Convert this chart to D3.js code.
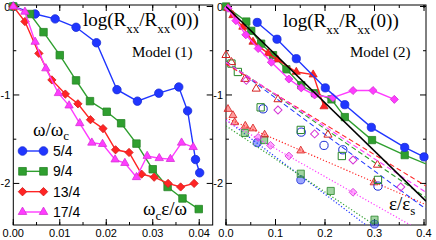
<!DOCTYPE html>
<html>
<head>
<meta charset="utf-8">
<script src="https://cdn.jsdelivr.net/npm/d3@7/dist/d3.min.js"></script>
<style>
body { margin: 0; background: #fff; }
text { fill: #000; }
</style>
</head>
<body>
<script>
const w = 436;
const h = 240;

// ---- Model (1) data ----
const legendLabels = ["5/4", "9/4", "13/4", "17/4"];
const colors = ["#2036ff", "#2f9f2f", "#ff2424", "#ff3cff"];
// circle, square, diamond (rotated square), triangle
const shapes = [d3.symbolCircle, d3.symbolSquare, d3.symbolSquare, d3.symbolTriangle];
const shapeSize = [56, 56, 34, 30];
const shapeRot = [0, 0, 45, 0];
// in Model (2) red uses triangles and magenta diamonds
const shapeOfColor1 = [0, 1, 2, 3];
const shapeOfColor2 = [0, 1, 3, 2];

const m1BlueX = [0, 0.0047, 0.009, 0.0135, 0.0179, 0.0223, 0.0267, 0.0313, 0.0356, 0.0375, 0.0392, 0.0401];
const m1BlueY = [0, -0.085, -0.14, -0.235, -0.41, -0.94, -1.07, -0.98, -0.91, -1.18, -1.73, -1.88];
const m1GreenX = [0, 0.0036, 0.0065, 0.010, 0.0135, 0.0165, 0.0201, 0.0232, 0.0265, 0.030, 0.0332, 0.0364, 0.0399];
const m1GreenY = [0, -0.085, -0.29, -0.55, -0.835, -1.07, -1.19, -1.32, -1.55, -1.84, -2.04, -2.17, -2.29];
const m1RedX = [0, 0.0025, 0.0055, 0.0083, 0.0112, 0.0139, 0.0166, 0.0193, 0.022, 0.0249, 0.0276, 0.0303, 0.0333, 0.036, 0.0389];
const m1RedY = [0, -0.17, -0.53, -0.83, -0.99, -1.10, -1.28, -1.38, -1.62, -1.65, -1.895, -1.93, -2.0, -2.04, -2.0];
const m1MagX = [0, 0.0025, 0.0047, 0.007, 0.0097, 0.012, 0.0143, 0.0169, 0.0192, 0.0219, 0.024, 0.0265, 0.0288, 0.0314, 0.0338, 0.0362, 0.0387];
const m1MagY = [0, -0.06, -0.40, -0.70, -0.98, -1.12, -1.32, -1.54, -1.555, -1.73, -1.77, -1.93, -1.69, -1.715, -1.725, -1.54, -1.59];

// ---- Model (2) data ----
// solid lines, filled markers
const m2BlueX = [0.063, 0.103, 0.142, 0.2006, 0.24, 0.2936, 0.361, 0.4];
const m2BlueY = [-0.18, -0.37, -0.59, -0.92, -1.11, -1.366, -1.593, -1.70];
const m2GreenX = [0, 0.041, 0.051, 0.071, 0.095, 0.122, 0.152, 0.18, 0.213, 0.24, 0.295, 0.361];
const m2GreenY = [0, -0.17, -0.275, -0.42, -0.55, -0.71, -0.89, -0.98, -1.05, -1.25, -1.51, -1.68];
const m2GreenTail = [0.404, -1.78];
const m2RedX = [0.004, 0.014, 0.034, 0.0545, 0.085, 0.104, 0.142, 0.176, 0.198];
const m2RedY = [-0.02, -0.1, -0.23, -0.40, -0.53, -0.6, -0.74, -0.77, -1.13];
const m2MagX = [0.004, 0.02, 0.04, 0.065, 0.0916, 0.127, 0.152, 0.179, 0.216, 0.2566, 0.297, 0.34];
const m2MagY = [-0.02, -0.16, -0.32, -0.475, -0.63, -0.82, -0.92, -1.0, -1.03, -0.95, -0.95, -1.05];
const blackLineX = [0, 0.404];
const blackLineY = [0, -2.2];

// open markers, dashed fit lines
const dashBlueX = [0.075, 0.152, 0.198, 0.236, 0.307];
const dashBlueY = [-1.157, -1.42, -1.57, -1.62, -2.03];
const dashGreenX = [0.011, 0.024, 0.07, 0.151, 0.234, 0.307];
const dashGreenY = [-0.645, -0.74, -1.14, -1.395, -1.69, -1.96];
const dashRedX = [0, 0.011, 0.038, 0.061, 0.105, 0.206, 0.306];
const dashRedY = [-0.55, -0.63, -0.82, -0.93, -1.05, -1.45, -1.79];
const dashMagX = [0.041, 0.105, 0.179, 0.2566, 0.353];
const dashMagY = [-0.835, -1.17, -1.44, -1.735, -2.04];
const dashFitStart = [-0.62, -0.62, -0.65, -0.63];   // blue, green, red, magenta at x=0
const dashFitEnd = [-2.29, -2.16, -2.03, -2.1];      // at x=0.404

// half filled markers, dotted fit lines
const dotBlueX = [0.063, 0.151, 0.30];
const dotBlueY = [-1.54, -1.96, -2.46];
const dotGreenX = [0.038, 0.077, 0.151, 0.2115, 0.30];
const dotGreenY = [-1.43, -1.51, -1.89, -2.085, -2.41];
const dotRedX = [0.004, 0.014, 0.0175, 0.039, 0.0545, 0.078, 0.151, 0.299];
const dotRedY = [-1.16, -1.23, -1.31, -1.35, -1.38, -1.45, -1.63, -1.99];
const dotMagX = [0.065, 0.09, 0.127, 0.2566];
const dotMagY = [-1.48, -1.57, -1.69, -2.1];
const dotFitStart = [-1.28, -1.35, -1.26, -1.29];
const dotFitEnd = [-2.98, -2.86, -2.24, -2.57];      // at x=0.404 (clipped)

const zip = (xs, ys) => xs.map((x, i) => [x, ys[i]]);

const svg = d3.select("body")
  .append("svg")
  .attr("width", w)
  .attr("height", h)
  .style("font-family", "'Liberation Sans', Arial, sans-serif");

const yScale = d3.scaleLinear().domain([-2.47, 0.017]).range([225, 5]);
const x1 = d3.scaleLinear().domain([0, 0.0429]).range([13.3, 212.7]);
const x2 = d3.scaleLinear().domain([0, 0.404]).range([226, 426]);

function frame(xs, id, xMajor, xMinor, fmt) {
  const [x0, xe] = xs.range();
  const [yb, yt] = yScale.range();
  svg.append("clipPath").attr("id", id)
    .append("rect").attr("x", x0).attr("y", yt).attr("width", xe - x0).attr("height", yb - yt);

  const g = svg.append("g");
  const xmaj = d3.range(0, xs.domain()[1] + 1e-9, xMajor);
  const xmin = d3.range(0, xs.domain()[1] + 1e-9, xMinor);
  const ymaj = [0, -1, -2];
  const ymin = [-0.5, -1.5];
  // ticks point inwards on all four sides
  [[xmaj, 6], [xmin, 3]].forEach(([vals, len]) => {
    vals.forEach(v => {
      g.append("line").attr("x1", xs(v)).attr("x2", xs(v)).attr("y1", yb).attr("y2", yb - len).attr("stroke", "#000");
      g.append("line").attr("x1", xs(v)).attr("x2", xs(v)).attr("y1", yt).attr("y2", yt + len).attr("stroke", "#000");
    });
  });
  [[ymaj, 6], [ymin, 3]].forEach(([vals, len]) => {
    vals.forEach(v => {
      g.append("line").attr("x1", x0).attr("x2", x0 + len).attr("y1", yScale(v)).attr("y2", yScale(v)).attr("stroke", "#000");
      g.append("line").attr("x1", xe).attr("x2", xe - len).attr("y1", yScale(v)).attr("y2", yScale(v)).attr("stroke", "#000");
    });
  });
  g.selectAll(".xl").data(xmaj).enter().append("text")
    .attr("x", d => xs(d)).attr("y", 237)
    .attr("text-anchor", "middle").attr("font-size", 11)
    .text(d => d3.format(fmt)(d));
  g.selectAll(".yl").data(ymaj).enter().append("text")
    .attr("x", x0 - 3).attr("y", d => yScale(d) + 4)
    .attr("text-anchor", "end").attr("font-size", 11)
    .text(d => d === 0 ? "0" : String(d));
  g.append("rect").attr("x", x0).attr("y", yt).attr("width", xe - x0).attr("height", yb - yt)
    .attr("fill", "none").attr("stroke", "#000").attr("stroke-width", 1);
}

function marker(s, scale) {
  return d3.symbol().type(shapes[s]).size(shapeSize[s] * (scale || 1));
}

function series(xs, pts, i, opts) {
  const s = opts.shapeMap[i];
  const g = svg.append("g").attr("clip-path", "url(#" + opts.clip + ")");
  const line = d3.line().x(d => xs(d[0])).y(d => yScale(d[1]));
  g.append("path").attr("d", line(opts.linePts || pts))
    .attr("fill", "none").attr("stroke", colors[i])
    .attr("stroke-width", opts.lw || 1.4)
    .attr("stroke-dasharray", opts.dash || null);
  const sym = marker(s, opts.scale);
  svg.append("g").selectAll("path").data(pts).enter().append("path")
    .attr("d", sym)
    .attr("transform", d => "translate(" + xs(d[0]) + "," + yScale(d[1]) + ") rotate(" + shapeRot[s] + ")")
    .attr("fill", opts.fill === "none" ? "none" : colors[i])
    .attr("fill-opacity", opts.fillOpacity || 1)
    .attr("stroke", d3.color(colors[i]).darker(0.5))
    .attr("stroke-width", opts.sw || 0.8);
}

// ---- left panel ----
frame(x1, "clip1", 0.01, 0.005, ".2f");
[[m1BlueX, m1BlueY], [m1GreenX, m1GreenY], [m1RedX, m1RedY], [m1MagX, m1MagY]].forEach(([xs, ys], i) => {
  series(x1, zip(xs, ys), i, { clip: "clip1", shapeMap: shapeOfColor1 });
});

// ---- right panel ----
frame(x2, "clip2", 0.1, 0.05, ".1f");
[[dotBlueX, dotBlueY], [dotGreenX, dotGreenY], [dotRedX, dotRedY], [dotMagX, dotMagY]].forEach(([xs, ys], i) => {
  series(x2, zip(xs, ys), i, { clip: "clip2", shapeMap: shapeOfColor2,
    linePts: [[0, dotFitStart[i]], [0.404, dotFitEnd[i]]],
    dash: "1.2,2", lw: 1.2, fillOpacity: 0.45, scale: 0.9 });
});
[[dashBlueX, dashBlueY], [dashGreenX, dashGreenY], [dashRedX, dashRedY], [dashMagX, dashMagY]].forEach(([xs, ys], i) => {
  series(x2, zip(xs, ys), i, { clip: "clip2", shapeMap: shapeOfColor2,
    linePts: [[0, dashFitStart[i]], [0.404, dashFitEnd[i]]],
    dash: "5,3", lw: 1.1, fill: "none", sw: 1, scale: 0.95 });
});
[[m2GreenX, m2GreenY], [m2RedX, m2RedY], [m2MagX, m2MagY], [m2BlueX, m2BlueY]].forEach(([xs, ys], k) => {
  const i = [1, 2, 3, 0][k];
  const pts = zip(xs, ys);
  series(x2, pts, i, { clip: "clip2", shapeMap: shapeOfColor2, scale: 0.95,
    linePts: i === 1 ? pts.concat([m2GreenTail]) : pts });
});
svg.append("path")
  .attr("clip-path", "url(#clip2)")
  .attr("d", d3.line().x(d => x2(d[0])).y(d => yScale(d[1]))(zip(blackLineX, blackLineY)))
  .attr("stroke", "#000").attr("stroke-width", 1.6).attr("fill", "none");

// ---- titles ----
function logTitle(x, y) {
  const t = svg.append("text").attr("x", x).attr("y", y)
    .attr("font-family", "'Liberation Serif', 'Times New Roman', serif").attr("font-size", 19);
  t.append("tspan").text("log(R");
  t.append("tspan").attr("font-size", 13).attr("dy", 7).text("xx");
  t.append("tspan").attr("dy", -7).text("/R");
  t.append("tspan").attr("font-size", 13).attr("dy", 7).text("xx");
  t.append("tspan").attr("dy", -7).text("(0))");
}
logTitle(83, 26);
logTitle(283, 27);

svg.append("text").attr("x", 132).attr("y", 57)
  .attr("font-family", "'Liberation Serif', serif").attr("font-size", 15).text("Model (1)");
svg.append("text").attr("x", 350).attr("y", 57)
  .attr("font-family", "'Liberation Serif', serif").attr("font-size", 15).text("Model (2)");

// x-axis captions
const cap1 = svg.append("text").attr("x", 143).attr("y", 215)
  .attr("font-family", "'Liberation Serif', serif").attr("font-size", 19);
cap1.append("tspan").text("ω");
cap1.append("tspan").attr("font-size", 13).attr("dy", 5).text("c");
cap1.append("tspan").attr("dy", -5).text("ε/ω");

const cap2 = svg.append("text").attr("x", 389).attr("y", 210)
  .attr("font-family", "'Liberation Serif', serif").attr("font-size", 19);
cap2.append("tspan").text("ε/ε");
cap2.append("tspan").attr("font-size", 13).attr("dy", 5).text("s");

// ---- legend ----
const lt = svg.append("text").attr("x", 33).attr("y", 136)
  .attr("font-family", "'Liberation Serif', serif").attr("font-size", 19);
lt.append("tspan").text("ω/ω");
lt.append("tspan").attr("font-size", 13).attr("dy", 4).text("c");

const legendY = d3.scaleLinear().domain([0, 3]).range([151, 212]);
legendLabels.forEach((lab, i) => {
  const yy = legendY(i);
  const s = shapeOfColor1[i];
  svg.append("line").attr("x1", 22.5).attr("x2", 43.5).attr("y1", yy).attr("y2", yy)
    .attr("stroke", colors[i]).attr("stroke-width", 1.4);
  const sym = marker(s, 1.05);
  [22.5, 43.5].forEach(xx => {
    svg.append("path").attr("d", sym).attr("transform", "translate(" + xx + "," + yy + ") rotate(" + shapeRot[s] + ")")
      .attr("fill", colors[i]).attr("stroke", d3.color(colors[i]).darker(0.5)).attr("stroke-width", 0.8);
  });
  svg.append("text").attr("x", 53).attr("y", yy + 5).attr("font-size", 14).text(lab);
});
</script>
</body>
</html>
